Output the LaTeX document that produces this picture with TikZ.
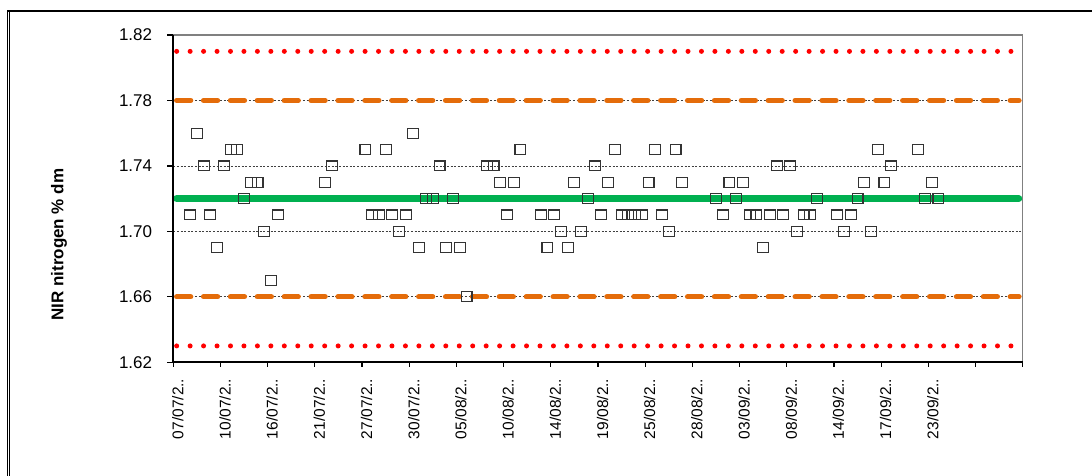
\documentclass[tikz,border=0pt]{standalone}
\usepackage{fontspec}
\setmainfont{Liberation Sans}
\definecolor{limred}{RGB}{255,0,0}
\definecolor{warnorange}{RGB}{228,108,10}
\definecolor{meangreen}{RGB}{0,176,80}
\begin{document}
\begin{tikzpicture}[x=1pt,y=1pt,
  sample/.style={draw=black!80,line width=1.1pt,minimum width=10.9pt,minimum height=9.9pt,inner sep=0pt},
  ylab/.style={anchor=east,inner sep=0pt,xshift=-21pt,font=\fontsize{17}{17}\selectfont},
  xlab/.style={xshift=4.5pt,yshift=-16.2pt,rotate=90,anchor=east,inner sep=0pt,font=\fontsize{15.5}{15.5}\selectfont},
  gridln/.style={black!75,line width=0.8pt,dash pattern=on 2pt off 1.6pt},
  limline/.style={limred,line width=5pt,line cap=round,dash pattern=on 0pt off 13.456pt},
  warnline/.style={warnorange,line width=5.3pt,line cap=round,dash pattern=on 14pt off 12.89pt},
  meanline/.style={meangreen,line width=7.3pt,line cap=round}]
\useasboundingbox (0,0) rectangle (1092,476);

% outer frame
\draw[line width=1.2pt] (7.8,0) -- (7.8,465) -- (1092,465);
\draw[line width=0.9pt] (9.9,0) -- (9.9,463.5);

\node[font=\bfseries\fontsize{17}{17}\selectfont,rotate=90] (title) at (59,231.3) {NIR nitrogen \% dm};

\begin{scope}[shift={(176.67,-2537.43)},x=6.741pt,y=1636.5pt]
% grid and limits
\draw[gridln] (-0.5,1.66) -- (125.5,1.66) (-0.5,1.70) -- (125.5,1.70)
              (-0.5,1.74) -- (125.5,1.74) (-0.5,1.78) -- (125.5,1.78);
\draw[limline]  (0,1.81) -- (123.85,1.81);
\draw[limline]  (0,1.63) -- (123.85,1.63);
\draw[warnline] (0,1.78) -- (124.95,1.78);
\draw[warnline] (0,1.66) -- (124.95,1.66);
\draw[meanline] (0,1.72) -- (124.9,1.72);

% samples
\node[sample] (s002) at (2,1.71) {};
\node[sample] (s003) at (3,1.76) {};
\node[sample] (s004) at (4,1.74) {};
\node[sample] (s005) at (5,1.71) {};
\node[sample] (s006) at (6,1.69) {};
\node[sample] (s007) at (7,1.74) {};
\node[sample] (s008) at (8,1.75) {};
\node[sample] (s009) at (9,1.75) {};
\node[sample] (s010) at (10,1.72) {};
\node[sample] (s011) at (11,1.73) {};
\node[sample] (s012) at (12,1.73) {};
\node[sample] (s013) at (13,1.70) {};
\node[sample] (s014) at (14,1.67) {};
\node[sample] (s015) at (15,1.71) {};
\node[sample] (s022) at (22,1.73) {};
\node[sample] (s023) at (23,1.74) {};
\node[sample] (s028) at (28,1.75) {};
\node[sample] (s029) at (29,1.71) {};
\node[sample] (s030) at (30,1.71) {};
\node[sample] (s031) at (31,1.75) {};
\node[sample] (s032) at (32,1.71) {};
\node[sample] (s033) at (33,1.70) {};
\node[sample] (s034) at (34,1.71) {};
\node[sample] (s035) at (35,1.76) {};
\node[sample] (s036) at (36,1.69) {};
\node[sample] (s037) at (37,1.72) {};
\node[sample] (s038) at (38,1.72) {};
\node[sample] (s039) at (39,1.74) {};
\node[sample] (s040) at (40,1.69) {};
\node[sample] (s041) at (41,1.72) {};
\node[sample] (s042) at (42,1.69) {};
\node[sample] (s043) at (43,1.66) {};
\node[sample] (s046) at (46,1.74) {};
\node[sample] (s047) at (47,1.74) {};
\node[sample] (s048) at (48,1.73) {};
\node[sample] (s049) at (49,1.71) {};
\node[sample] (s050) at (50,1.73) {};
\node[sample] (s051) at (51,1.75) {};
\node[sample] (s054) at (54,1.71) {};
\node[sample] (s055) at (55,1.69) {};
\node[sample] (s056) at (56,1.71) {};
\node[sample] (s057) at (57,1.70) {};
\node[sample] (s058) at (58,1.69) {};
\node[sample] (s059) at (59,1.73) {};
\node[sample] (s060) at (60,1.70) {};
\node[sample] (s061) at (61,1.72) {};
\node[sample] (s062) at (62,1.74) {};
\node[sample] (s063) at (63,1.71) {};
\node[sample] (s064) at (64,1.73) {};
\node[sample] (s065) at (65,1.75) {};
\node[sample] (s066) at (66,1.71) {};
\node[sample] (s067) at (67,1.71) {};
\node[sample] (s068) at (68,1.71) {};
\node[sample] (s069) at (69,1.71) {};
\node[sample] (s070) at (70,1.73) {};
\node[sample] (s071) at (71,1.75) {};
\node[sample] (s072) at (72,1.71) {};
\node[sample] (s073) at (73,1.70) {};
\node[sample] (s074) at (74,1.75) {};
\node[sample] (s075) at (75,1.73) {};
\node[sample] (s080) at (80,1.72) {};
\node[sample] (s081) at (81,1.71) {};
\node[sample] (s082) at (82,1.73) {};
\node[sample] (s083) at (83,1.72) {};
\node[sample] (s084) at (84,1.73) {};
\node[sample] (s085) at (85,1.71) {};
\node[sample] (s086) at (86,1.71) {};
\node[sample] (s087) at (87,1.69) {};
\node[sample] (s088) at (88,1.71) {};
\node[sample] (s089) at (89,1.74) {};
\node[sample] (s090) at (90,1.71) {};
\node[sample] (s091) at (91,1.74) {};
\node[sample] (s092) at (92,1.70) {};
\node[sample] (s093) at (93,1.71) {};
\node[sample] (s094) at (94,1.71) {};
\node[sample] (s095) at (95,1.72) {};
\node[sample] (s098) at (98,1.71) {};
\node[sample] (s099) at (99,1.70) {};
\node[sample] (s100) at (100,1.71) {};
\node[sample] (s101) at (101,1.72) {};
\node[sample] (s102) at (102,1.73) {};
\node[sample] (s103) at (103,1.70) {};
\node[sample] (s104) at (104,1.75) {};
\node[sample] (s105) at (105,1.73) {};
\node[sample] (s106) at (106,1.74) {};
\node[sample] (s110) at (110,1.75) {};
\node[sample] (s111) at (111,1.72) {};
\node[sample] (s112) at (112,1.73) {};
\node[sample] (s113) at (113,1.72) {};

% plot frame and axes
\draw[black!50,line width=1.3pt] (-0.5,1.82) -- (125.5,1.82) -- (125.5,1.62);
\draw[line width=1.7pt] (-0.5,1.82) -- (-0.5,1.62) -- (125.5,1.62);
\draw[line width=1.2pt] (-0.5,1.62) -- ++(-6.7pt,0) (-0.5,1.66) -- ++(-6.7pt,0)
  (-0.5,1.70) -- ++(-6.7pt,0) (-0.5,1.74) -- ++(-6.7pt,0)
  (-0.5,1.78) -- ++(-6.7pt,0) (-0.5,1.82) -- ++(-6.7pt,0);
\draw[line width=1.2pt] (-0.5,1.62) -- ++(0,-5pt) (6.5,1.62) -- ++(0,-5pt)
  (13.5,1.62) -- ++(0,-5pt) (20.5,1.62) -- ++(0,-5pt) (27.5,1.62) -- ++(0,-5pt)
  (34.5,1.62) -- ++(0,-5pt) (41.5,1.62) -- ++(0,-5pt) (48.5,1.62) -- ++(0,-5pt)
  (55.5,1.62) -- ++(0,-5pt) (62.5,1.62) -- ++(0,-5pt) (69.5,1.62) -- ++(0,-5pt)
  (76.5,1.62) -- ++(0,-5pt) (83.5,1.62) -- ++(0,-5pt) (90.5,1.62) -- ++(0,-5pt)
  (97.5,1.62) -- ++(0,-5pt) (104.5,1.62) -- ++(0,-5pt) (111.5,1.62) -- ++(0,-5pt)
  (118.5,1.62) -- ++(0,-5pt) (125.5,1.62) -- ++(0,-5pt);

% value labels
\node[ylab] (y162) at (-0.5,1.62) {1.62};
\node[ylab] (y166) at (-0.5,1.66) {1.66};
\node[ylab] (y170) at (-0.5,1.70) {1.70};
\node[ylab] (y174) at (-0.5,1.74) {1.74};
\node[ylab] (y178) at (-0.5,1.78) {1.78};
\node[ylab] (y182) at (-0.5,1.82) {1.82};

% date labels
\node[xlab] (x00) at (-0.5,1.62)  {07/07/2..};
\node[xlab] (x01) at (6.5,1.62)   {10/07/2..};
\node[xlab] (x02) at (13.5,1.62)  {16/07/2..};
\node[xlab] (x03) at (20.5,1.62)  {21/07/2..};
\node[xlab] (x04) at (27.5,1.62)  {27/07/2..};
\node[xlab] (x05) at (34.5,1.62)  {30/07/2..};
\node[xlab] (x06) at (41.5,1.62)  {05/08/2..};
\node[xlab] (x07) at (48.5,1.62)  {10/08/2..};
\node[xlab] (x08) at (55.5,1.62)  {14/08/2..};
\node[xlab] (x09) at (62.5,1.62)  {19/08/2..};
\node[xlab] (x10) at (69.5,1.62)  {25/08/2..};
\node[xlab] (x11) at (76.5,1.62)  {28/08/2..};
\node[xlab] (x12) at (83.5,1.62)  {03/09/2..};
\node[xlab] (x13) at (90.5,1.62)  {08/09/2..};
\node[xlab] (x14) at (97.5,1.62)  {14/09/2..};
\node[xlab] (x15) at (104.5,1.62) {17/09/2..};
\node[xlab] (x16) at (111.5,1.62) {23/09/2..};
\end{scope}
\end{tikzpicture}
\end{document}
